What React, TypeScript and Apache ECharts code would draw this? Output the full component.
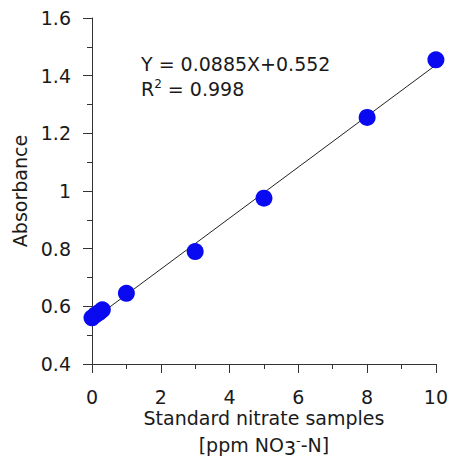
import React, { useEffect, useRef } from "react";
import * as echarts from "echarts";

const concentrations = [0, 0.1, 0.2, 0.3, 1, 3, 5, 8, 10];
const absorbances = [0.56, 0.57, 0.578, 0.588, 0.645, 0.79, 0.975, 1.255, 1.455];
const slope = 0.0885;
const intercept = 0.552;
const fitRange = [0, 10];
const equationText = "Y = 0.0885X+0.552";
const r2Text = "0.998";

export default function App() {
  const ref = useRef<HTMLDivElement>(null);
  useEffect(() => {
    if (!ref.current) return;
    const chart = echarts.init(ref.current, undefined, { renderer: "svg" });
    const font = "DejaVu Sans, sans-serif";
    const txt = "#1a1a1a";
    const fs = 19;
    chart.setOption({
      animation: false,
      grid: { left: 92, right: 13, top: 18, bottom: 104 },
      xAxis: {
        type: "value",
        min: 0,
        max: 10,
        interval: 2,
        name: "Standard nitrate samples\n[ppm NO{sub|3}{sup|-}-N]",
        nameLocation: "middle",
        nameGap: 40,
        nameMoveOverlap: false,
        nameTextStyle: {
          fontFamily: font,
          fontSize: fs,
          color: txt,
          lineHeight: 27,
          rich: {
            sub: { fontFamily: font, fontSize: fs, color: txt, padding: [6, 0, 0, 0] },
            sup: { fontFamily: font, fontSize: 13, color: txt, padding: [0, 0, 8, 0] },
          },
        },
        axisLine: { show: true, lineStyle: { color: "#333", width: 1 } },
        axisTick: { show: true, length: 9, lineStyle: { color: "#333" } },
        minorTick: { show: true, splitNumber: 2, length: 5, lineStyle: { color: "#333" } },
        splitLine: { show: false },
        axisLabel: { fontFamily: font, fontSize: fs, color: txt, margin: 23 },
      },
      yAxis: {
        type: "value",
        min: 0.4,
        max: 1.6,
        interval: 0.2,
        name: "Absorbance",
        nameLocation: "middle",
        nameGap: 61,
        nameTextStyle: { fontFamily: font, fontSize: fs, color: txt },
        axisLine: { show: true, lineStyle: { color: "#333", width: 1 } },
        axisTick: { show: true, length: 9, lineStyle: { color: "#333" } },
        minorTick: { show: true, splitNumber: 2, length: 5, lineStyle: { color: "#333" } },
        splitLine: { show: false },
        axisLabel: {
          fontFamily: font,
          fontSize: fs,
          color: txt,
          margin: 21,
          formatter: (v: number) => String(Math.round(v * 10) / 10),
        },
      },
      series: [
        {
          type: "line",
          data: fitRange.map((x) => [x, slope * x + intercept]),
          symbol: "none",
          lineStyle: { color: "#222", width: 1 },
          z: 1,
        },
        {
          type: "scatter",
          data: concentrations.map((x, i) => [x, absorbances[i]]),
          symbolSize: 17,
          itemStyle: { color: "#0a0af0", opacity: 1 },
          z: 2,
        },
      ],
      graphic: [
        {
          type: "text",
          left: 141,
          top: 54,
          style: { text: equationText, fontFamily: font, fontSize: fs, fill: txt },
        },
        {
          type: "text",
          left: 141,
          top: 78,
          style: {
            text: "R{s|2} = " + r2Text,
            fontFamily: font,
            fontSize: fs,
            fill: txt,
            rich: { s: { fontFamily: font, fontSize: 12, fill: txt, padding: [0, 0, 9, 0] } },
          },
        },
      ],
    });
    return () => chart.dispose();
  }, []);
  return (
    <div
      ref={ref}
      style={{ position: "absolute", left: 0, top: 0, width: 451, height: 468 }}
    />
  );
}
